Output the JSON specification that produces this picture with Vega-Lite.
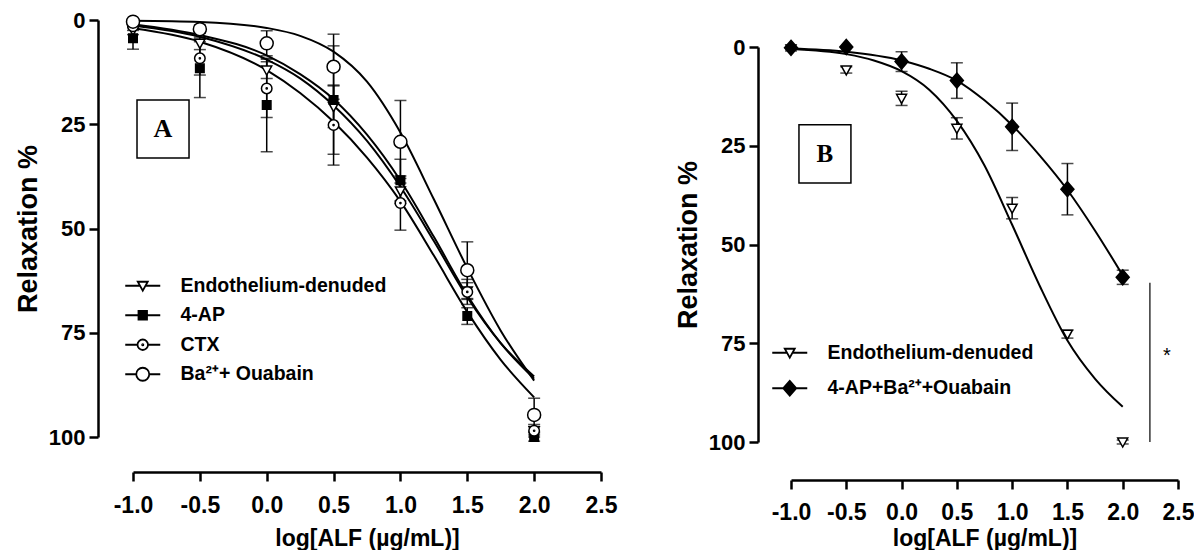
{
  "$schema": "https://vega.github.io/schema/vega-lite/v6.json",
  "background": "white",
  "padding": {"left": 14, "top": 9, "right": 0, "bottom": 0},
  "config": {
    "font": "Liberation Sans",
    "view": {"stroke": null},
    "axis": {
      "domainColor": "black", "domainWidth": 2.5, "tickColor": "black", "tickWidth": 2.5, "tickSize": 9,
      "labelFont": "Liberation Sans", "labelFontSize": 22, "labelFontWeight": "bold", "labelColor": "black",
      "titleFont": "Liberation Sans", "titleFontWeight": "bold", "titleColor": "black", "grid": false,
      "labelFlush": false, "labelOverlap": false
    },
    "axisX": {"labelPadding": 13, "labelFontSize": 23, "titleFontSize": 23, "titlePadding": 10},
    "axisY": {"labelPadding": 4, "titleFontSize": 27, "titlePadding": 6}
  },
  "datasets": {
    "ptsA": [
      {"series": "Endothelium-denuded", "x": -1, "y": 2.5, "lo": 1.5, "hi": 3.5},
      {"series": "Endothelium-denuded", "x": -0.5, "y": 5.6, "lo": 4.1, "hi": 7.1},
      {"series": "Endothelium-denuded", "x": 0, "y": 12, "lo": 10, "hi": 14},
      {"series": "Endothelium-denuded", "x": 0.5, "y": 20.8, "lo": 15.8, "hi": 25.8},
      {"series": "Endothelium-denuded", "x": 1, "y": 41, "lo": 38, "hi": 44},
      {"series": "Endothelium-denuded", "x": 1.5, "y": 65, "lo": 63, "hi": 67},
      {"series": "Endothelium-denuded", "x": 2, "y": 98.5, "lo": 97.5, "hi": 99.5},
      {"series": "4-AP", "x": -1, "y": 4.4, "lo": 1.8, "hi": 7},
      {"series": "4-AP", "x": -0.5, "y": 11.6, "lo": 4.6, "hi": 18.6},
      {"series": "4-AP", "x": 0, "y": 20.4, "lo": 9.2, "hi": 31.6},
      {"series": "4-AP", "x": 0.5, "y": 19.2, "lo": 6.2, "hi": 32.2},
      {"series": "4-AP", "x": 1, "y": 38.4, "lo": 33.4, "hi": 43.4},
      {"series": "4-AP", "x": 1.5, "y": 71, "lo": 69, "hi": 73},
      {"series": "4-AP", "x": 2, "y": 100, "lo": 99, "hi": 101},
      {"series": "CTX", "x": -1, "y": 1.5, "lo": 0.5, "hi": 2.5},
      {"series": "CTX", "x": -0.5, "y": 9.2, "lo": 5.2, "hi": 13.2},
      {"series": "CTX", "x": 0, "y": 16.4, "lo": 9.4, "hi": 23.4},
      {"series": "CTX", "x": 0.5, "y": 25.2, "lo": 15.6, "hi": 34.8},
      {"series": "CTX", "x": 1, "y": 43.9, "lo": 37.4, "hi": 50.4},
      {"series": "CTX", "x": 1.5, "y": 65.2, "lo": 62.2, "hi": 68.2},
      {"series": "CTX", "x": 2, "y": 98.5, "lo": 97, "hi": 100},
      {"series": "Ba²⁺+ Ouabain", "x": -1, "y": 0.4, "lo": 0, "hi": 0.8},
      {"series": "Ba²⁺+ Ouabain", "x": -0.5, "y": 2.2, "lo": 1.2, "hi": 3.2},
      {"series": "Ba²⁺+ Ouabain", "x": 0, "y": 5.6, "lo": 2.6, "hi": 8.6},
      {"series": "Ba²⁺+ Ouabain", "x": 0.5, "y": 11.2, "lo": 3.4, "hi": 19},
      {"series": "Ba²⁺+ Ouabain", "x": 1, "y": 29.2, "lo": 19.3, "hi": 39.1},
      {"series": "Ba²⁺+ Ouabain", "x": 1.5, "y": 60, "lo": 53.2, "hi": 66.8},
      {"series": "Ba²⁺+ Ouabain", "x": 2, "y": 94.7, "lo": 90.7, "hi": 98.7}
    ],
    "curvesA": [
      {"series": "Ba²⁺+ Ouabain", "x": -1, "y": 0.15},
      {"series": "Ba²⁺+ Ouabain", "x": -0.5, "y": 0.45},
      {"series": "Ba²⁺+ Ouabain", "x": 0, "y": 1.9},
      {"series": "Ba²⁺+ Ouabain", "x": 0.25, "y": 3.8},
      {"series": "Ba²⁺+ Ouabain", "x": 0.5, "y": 7.6},
      {"series": "Ba²⁺+ Ouabain", "x": 0.75, "y": 14.8},
      {"series": "Ba²⁺+ Ouabain", "x": 1, "y": 27},
      {"series": "Ba²⁺+ Ouabain", "x": 1.25, "y": 43},
      {"series": "Ba²⁺+ Ouabain", "x": 1.5, "y": 59.5},
      {"series": "Ba²⁺+ Ouabain", "x": 1.75, "y": 74.5},
      {"series": "Ba²⁺+ Ouabain", "x": 2, "y": 86.5},
      {"series": "Endothelium-denuded", "x": -1, "y": 1.0},
      {"series": "Endothelium-denuded", "x": -0.5, "y": 3.6},
      {"series": "Endothelium-denuded", "x": 0, "y": 8.5},
      {"series": "Endothelium-denuded", "x": 0.25, "y": 13},
      {"series": "Endothelium-denuded", "x": 0.5, "y": 19},
      {"series": "Endothelium-denuded", "x": 0.75, "y": 27.5},
      {"series": "Endothelium-denuded", "x": 1, "y": 38.5},
      {"series": "Endothelium-denuded", "x": 1.25, "y": 52},
      {"series": "Endothelium-denuded", "x": 1.5, "y": 66},
      {"series": "Endothelium-denuded", "x": 1.75, "y": 77.5},
      {"series": "Endothelium-denuded", "x": 2, "y": 86},
      {"series": "4-AP", "x": -1, "y": 1.3},
      {"series": "4-AP", "x": -0.5, "y": 4.0},
      {"series": "4-AP", "x": 0, "y": 9.5},
      {"series": "4-AP", "x": 0.25, "y": 14},
      {"series": "4-AP", "x": 0.5, "y": 20.5},
      {"series": "4-AP", "x": 0.75, "y": 29},
      {"series": "4-AP", "x": 1, "y": 40},
      {"series": "4-AP", "x": 1.25, "y": 53},
      {"series": "4-AP", "x": 1.5, "y": 66.5},
      {"series": "4-AP", "x": 1.75, "y": 77.5},
      {"series": "4-AP", "x": 2, "y": 85.5},
      {"series": "CTX", "x": -1, "y": 2.0},
      {"series": "CTX", "x": -0.5, "y": 5.2},
      {"series": "CTX", "x": 0, "y": 12},
      {"series": "CTX", "x": 0.25, "y": 17.5},
      {"series": "CTX", "x": 0.5, "y": 24.4},
      {"series": "CTX", "x": 0.75, "y": 33},
      {"series": "CTX", "x": 1, "y": 43.5},
      {"series": "CTX", "x": 1.25, "y": 56.5},
      {"series": "CTX", "x": 1.5, "y": 70},
      {"series": "CTX", "x": 1.75, "y": 81.5},
      {"series": "CTX", "x": 2, "y": 90.5}
    ],
    "ptsB": [
      {"series": "Endothelium-denuded", "x": -1, "y": 0.5, "lo": 0, "hi": 1},
      {"series": "Endothelium-denuded", "x": -0.5, "y": 5.8, "lo": 5, "hi": 6.6},
      {"series": "Endothelium-denuded", "x": 0, "y": 13, "lo": 11.2, "hi": 14.8},
      {"series": "Endothelium-denuded", "x": 0.5, "y": 20.6, "lo": 17.9, "hi": 23.3},
      {"series": "Endothelium-denuded", "x": 1, "y": 40.8, "lo": 38.1, "hi": 43.5},
      {"series": "Endothelium-denuded", "x": 1.5, "y": 72.7, "lo": 71.7, "hi": 73.7},
      {"series": "Endothelium-denuded", "x": 2, "y": 100, "lo": 99.5, "hi": 100.5},
      {"series": "4-AP+Ba²⁺+Ouabain", "x": -1, "y": 0.2, "lo": 0, "hi": 0.4},
      {"series": "4-AP+Ba²⁺+Ouabain", "x": -0.5, "y": 0, "lo": 0, "hi": 0},
      {"series": "4-AP+Ba²⁺+Ouabain", "x": 0, "y": 3.7, "lo": 1.2, "hi": 6.2},
      {"series": "4-AP+Ba²⁺+Ouabain", "x": 0.5, "y": 8.5, "lo": 4, "hi": 13},
      {"series": "4-AP+Ba²⁺+Ouabain", "x": 1, "y": 20.2, "lo": 14.2, "hi": 26.2},
      {"series": "4-AP+Ba²⁺+Ouabain", "x": 1.5, "y": 36, "lo": 29.5, "hi": 42.5},
      {"series": "4-AP+Ba²⁺+Ouabain", "x": 2, "y": 58.3, "lo": 56.5, "hi": 60.1}
    ],
    "curvesB": [
      {"series": "Endothelium-denuded", "x": -1, "y": 0.5},
      {"series": "Endothelium-denuded", "x": -0.5, "y": 1.8},
      {"series": "Endothelium-denuded", "x": -0.25, "y": 3.4},
      {"series": "Endothelium-denuded", "x": 0, "y": 6.1},
      {"series": "Endothelium-denuded", "x": 0.25, "y": 10.8},
      {"series": "Endothelium-denuded", "x": 0.5, "y": 18.7},
      {"series": "Endothelium-denuded", "x": 0.75, "y": 30},
      {"series": "Endothelium-denuded", "x": 1, "y": 45},
      {"series": "Endothelium-denuded", "x": 1.25, "y": 60.5},
      {"series": "Endothelium-denuded", "x": 1.5, "y": 74.3},
      {"series": "Endothelium-denuded", "x": 1.75, "y": 84},
      {"series": "Endothelium-denuded", "x": 2, "y": 91.1},
      {"series": "4-AP+Ba²⁺+Ouabain", "x": -1, "y": 0.4},
      {"series": "4-AP+Ba²⁺+Ouabain", "x": -0.5, "y": 1.2},
      {"series": "4-AP+Ba²⁺+Ouabain", "x": 0, "y": 3.4},
      {"series": "4-AP+Ba²⁺+Ouabain", "x": 0.25, "y": 5.5},
      {"series": "4-AP+Ba²⁺+Ouabain", "x": 0.5, "y": 8.5},
      {"series": "4-AP+Ba²⁺+Ouabain", "x": 0.75, "y": 13.5},
      {"series": "4-AP+Ba²⁺+Ouabain", "x": 1, "y": 19.8},
      {"series": "4-AP+Ba²⁺+Ouabain", "x": 1.25, "y": 27.5},
      {"series": "4-AP+Ba²⁺+Ouabain", "x": 1.5, "y": 36.2},
      {"series": "4-AP+Ba²⁺+Ouabain", "x": 1.75, "y": 46.5},
      {"series": "4-AP+Ba²⁺+Ouabain", "x": 2, "y": 57.8}
    ],
    "boxA": [{"x": -0.97, "x2": -0.581, "y": 19.2, "y2": 33.1, "cx": -0.776, "cy": 26.1, "label": "A"}],
    "boxB": [{"x": -0.928, "x2": -0.458, "y": 19.7, "y2": 34.4, "cx": -0.693, "cy": 27.1, "label": "B"}],
    "sigB": [{"x": 2.246, "y": 59.7, "y2": 100, "tx": 2.40, "ty": 78.2, "label": "*"}]
  },
  "bounds": "flush",
  "spacing": 190,
  "hconcat": [
    {
      "width": 468,
      "height": 417,
      "resolve": {"scale": {"shape": "independent", "fill": "independent"}, "legend": {"shape": "independent", "fill": "independent"}},
      "layer": [
        {
          "data": {"name": "ptsA"},
          "mark": {"type": "errorbar", "color": "black", "thickness": 1.5, "ticks": {"size": 12, "thickness": 1.5, "color": "black"}},
          "encoding": {
            "x": {"field": "x", "type": "quantitative", "title": "log[ALF (µg/mL)]"},
            "y": {"field": "lo", "type": "quantitative", "title": "Relaxation %"},
            "y2": {"field": "hi"}
          }
        },
        {
          "data": {"name": "curvesA"},
          "mark": {"type": "line", "color": "black", "strokeWidth": 2, "interpolate": "monotone"},
          "encoding": {
            "x": {"field": "x", "type": "quantitative", "title": "log[ALF (µg/mL)]",
                  "scale": {"domain": [-1, 2.5], "nice": false, "zero": false},
                  "axis": {"values": [-1, -0.5, 0, 0.5, 1, 1.5, 2, 2.5], "offset": 35, "labelExpr": "(datum.value < 0 ? '-' : '') + format(abs(datum.value), '.1f')"}},
            "y": {"field": "y", "type": "quantitative", "title": "Relaxation %",
                  "scale": {"domain": [0, 100], "reverse": true, "nice": false, "zero": false},
                  "axis": {"values": [0, 25, 50, 75, 100], "offset": 35}},
            "detail": {"field": "series"}
          }
        },
        {
          "data": {"name": "ptsA"},
          "mark": {"type": "point", "filled": true, "stroke": "black", "strokeWidth": 1.5, "size": 100, "opacity": 1},
          "encoding": {
            "x": {"field": "x", "type": "quantitative", "title": "log[ALF (µg/mL)]"},
            "y": {"field": "y", "type": "quantitative", "title": "Relaxation %"},
            "shape": {"field": "series", "type": "nominal", "legend": null,
                      "scale": {"domain": ["Endothelium-denuded", "4-AP", "CTX", "Ba²⁺+ Ouabain"],
                                "range": ["M-1,-0.8L1,-0.8L0,1Z", "M-0.85,-0.85H0.85V0.85H-0.85Z", "M-1.05,0A1.05,1.05 0 1,0 1.05,0A1.05,1.05 0 1,0 -1.05,0ZM-0.12,0A0.12,0.12 0 1,0 0.12,0A0.12,0.12 0 1,0 -0.12,0Z", "M-1.3,0A1.3,1.3 0 1,0 1.3,0A1.3,1.3 0 1,0 -1.3,0Z"]}},
            "fill": {"field": "series", "type": "nominal", "legend": null,
                     "scale": {"domain": ["Endothelium-denuded", "4-AP", "CTX", "Ba²⁺+ Ouabain"], "range": ["white", "black", "white", "white"]}}
          }
        },
        {
          "data": {"name": "ptsA"},
          "transform": [{"filter": "false"}],
          "mark": {"type": "point", "filled": true, "stroke": "black", "strokeWidth": 1.8, "size": 100, "opacity": 1},
          "encoding": {
            "x": {"field": "x", "type": "quantitative", "title": "log[ALF (µg/mL)]"},
            "y": {"field": "y", "type": "quantitative", "title": "Relaxation %"},
            "shape": {"field": "series", "type": "nominal",
                      "scale": {"domain": ["Endothelium-denuded", "4-AP", "CTX", "Ba²⁺+ Ouabain"],
                                "range": ["M-3.5,0H-0.56M0.56,0H3.5M-1,-0.8L1,-0.8L0,1Z", "M-3.5,0H3.5M-0.85,-0.85H0.85V0.85H-0.85Z", "M-3.5,0H-1.05M1.05,0H3.5M-1.05,0A1.05,1.05 0 1,0 1.05,0A1.05,1.05 0 1,0 -1.05,0ZM-0.12,0A0.12,0.12 0 1,0 0.12,0A0.12,0.12 0 1,0 -0.12,0Z", "M-3.5,0H-1.3M1.3,0H3.5M-1.3,0A1.3,1.3 0 1,0 1.3,0A1.3,1.3 0 1,0 -1.3,0Z"]},
                      "legend": {"title": null, "orient": "none", "legendX": 0, "legendY": 256, "direction": "vertical", "padding": 0,
                                 "labelFont": "Liberation Sans", "labelFontSize": 19.5, "labelFontWeight": "bold", "labelColor": "black",
                                 "labelOffset": 28, "rowPadding": 8.5, "symbolSize": 100, "symbolStrokeWidth": 1.8, "symbolOpacity": 1, "labelLimit": 400}},
            "fill": {"field": "series", "type": "nominal",
                     "scale": {"domain": ["Endothelium-denuded", "4-AP", "CTX", "Ba²⁺+ Ouabain"], "range": ["white", "black", "white", "white"]},
                     "legend": {"title": null, "orient": "none", "legendX": 0, "legendY": 256, "direction": "vertical", "padding": 0,
                                "labelFont": "Liberation Sans", "labelFontSize": 19.5, "labelFontWeight": "bold", "labelColor": "black",
                                "labelOffset": 28, "rowPadding": 8.5, "symbolSize": 100, "symbolStrokeWidth": 1.8, "symbolOpacity": 1, "labelLimit": 400}}
          }
        },
        {
          "data": {"name": "boxA"},
          "mark": {"type": "rect", "filled": false, "color": "black", "strokeWidth": 1.5},
          "encoding": {
            "x": {"field": "x", "type": "quantitative", "title": "log[ALF (µg/mL)]"},
            "x2": {"field": "x2"},
            "y": {"field": "y", "type": "quantitative", "title": "Relaxation %"},
            "y2": {"field": "y2"}
          }
        },
        {
          "data": {"name": "boxA"},
          "mark": {"type": "text", "font": "Liberation Serif", "fontSize": 26, "fontWeight": "bold", "color": "black", "baseline": "middle", "align": "center"},
          "encoding": {
            "x": {"field": "cx", "type": "quantitative", "title": "log[ALF (µg/mL)]"},
            "y": {"field": "cy", "type": "quantitative", "title": "Relaxation %"},
            "text": {"field": "label"}
          }
        }
      ]
    },
    {
      "bounds": "flush",
      "spacing": 20,
      "vconcat": [
        {"width": 387, "height": 7, "data": {"values": []}, "mark": "point"},
        {
          "width": 387,
          "height": 395,
          "resolve": {"scale": {"shape": "independent", "fill": "independent"}, "legend": {"shape": "independent", "fill": "independent"}},
          "layer": [
            {
              "data": {"name": "ptsB"},
              "mark": {"type": "errorbar", "color": "black", "thickness": 1.5, "ticks": {"size": 12, "thickness": 1.5, "color": "black"}},
              "encoding": {
                "x": {"field": "x", "type": "quantitative", "title": "log[ALF (µg/mL)]"},
                "y": {"field": "lo", "type": "quantitative", "title": "Relaxation %"},
                "y2": {"field": "hi"}
              }
            },
            {
              "data": {"name": "curvesB"},
              "mark": {"type": "line", "color": "black", "strokeWidth": 2, "interpolate": "monotone"},
              "encoding": {
                "x": {"field": "x", "type": "quantitative", "title": "log[ALF (µg/mL)]",
                      "scale": {"domain": [-1, 2.5], "nice": false, "zero": false},
                      "axis": {"values": [-1, -0.5, 0, 0.5, 1, 1.5, 2, 2.5], "offset": 38, "labelPadding": 12, "titlePadding": 3, "labelExpr": "(datum.value < 0 ? '-' : '') + format(abs(datum.value), '.1f')"}},
                "y": {"field": "y", "type": "quantitative", "title": "Relaxation %",
                      "scale": {"domain": [0, 100], "reverse": true, "nice": false, "zero": false},
                      "axis": {"values": [0, 25, 50, 75, 100], "offset": 33}},
                "detail": {"field": "series"}
              }
            },
            {
              "data": {"name": "ptsB"},
              "mark": {"type": "point", "filled": true, "stroke": "black", "strokeWidth": 1.5, "size": 100, "opacity": 1},
              "encoding": {
                "x": {"field": "x", "type": "quantitative", "title": "log[ALF (µg/mL)]"},
                "y": {"field": "y", "type": "quantitative", "title": "Relaxation %"},
                "shape": {"field": "series", "type": "nominal", "legend": null,
                          "scale": {"domain": ["Endothelium-denuded", "4-AP+Ba²⁺+Ouabain"],
                                    "range": ["M-1,-0.8L1,-0.8L0,1Z", "M0,-1.5L1.3,0L0,1.5L-1.3,0Z"]}},
                "fill": {"field": "series", "type": "nominal", "legend": null,
                         "scale": {"domain": ["Endothelium-denuded", "4-AP+Ba²⁺+Ouabain"], "range": ["white", "black"]}}
              }
            },
            {
              "data": {"name": "ptsB"},
              "transform": [{"filter": "false"}],
              "mark": {"type": "point", "filled": true, "stroke": "black", "strokeWidth": 1.8, "size": 100, "opacity": 1},
              "encoding": {
                "x": {"field": "x", "type": "quantitative", "title": "log[ALF (µg/mL)]"},
                "y": {"field": "y", "type": "quantitative", "title": "Relaxation %"},
                "shape": {"field": "series", "type": "nominal",
                          "scale": {"domain": ["Endothelium-denuded", "4-AP+Ba²⁺+Ouabain"],
                                    "range": ["M-3.5,0H-0.56M0.56,0H3.5M-1,-0.8L1,-0.8L0,1Z", "M-3.5,0H3.5M0,-1.5L1.3,0L0,1.5L-1.3,0Z"]},
                          "legend": {"title": null, "orient": "none", "legendX": -11, "legendY": 296, "direction": "vertical", "padding": 0,
                                     "labelFont": "Liberation Sans", "labelFontSize": 19.5, "labelFontWeight": "bold", "labelColor": "black",
                                     "labelOffset": 28, "rowPadding": 13.5, "symbolSize": 100, "symbolStrokeWidth": 1.8, "symbolOpacity": 1, "labelLimit": 400}},
                "fill": {"field": "series", "type": "nominal",
                         "scale": {"domain": ["Endothelium-denuded", "4-AP+Ba²⁺+Ouabain"], "range": ["white", "black"]},
                         "legend": {"title": null, "orient": "none", "legendX": -11, "legendY": 296, "direction": "vertical", "padding": 0,
                                    "labelFont": "Liberation Sans", "labelFontSize": 19.5, "labelFontWeight": "bold", "labelColor": "black",
                                    "labelOffset": 28, "rowPadding": 13.5, "symbolSize": 100, "symbolStrokeWidth": 1.8, "symbolOpacity": 1, "labelLimit": 400}}
              }
            },
            {
              "data": {"name": "boxB"},
              "mark": {"type": "rect", "filled": false, "color": "black", "strokeWidth": 1.5},
              "encoding": {
                "x": {"field": "x", "type": "quantitative", "title": "log[ALF (µg/mL)]"},
                "x2": {"field": "x2"},
                "y": {"field": "y", "type": "quantitative", "title": "Relaxation %"},
                "y2": {"field": "y2"}
              }
            },
            {
              "data": {"name": "boxB"},
              "mark": {"type": "text", "font": "Liberation Serif", "fontSize": 25, "fontWeight": "bold", "color": "black", "baseline": "middle", "align": "center"},
              "encoding": {
                "x": {"field": "cx", "type": "quantitative", "title": "log[ALF (µg/mL)]"},
                "y": {"field": "cy", "type": "quantitative", "title": "Relaxation %"},
                "text": {"field": "label"}
              }
            },
            {
              "data": {"name": "sigB"},
              "mark": {"type": "rule", "color": "black", "strokeWidth": 1.2},
              "encoding": {
                "x": {"field": "x", "type": "quantitative", "title": "log[ALF (µg/mL)]"},
                "y": {"field": "y", "type": "quantitative", "title": "Relaxation %"},
                "y2": {"field": "y2"}
              }
            },
            {
              "data": {"name": "sigB"},
              "mark": {"type": "text", "fontSize": 20, "color": "black", "baseline": "middle", "align": "center"},
              "encoding": {
                "x": {"field": "tx", "type": "quantitative", "title": "log[ALF (µg/mL)]"},
                "y": {"field": "ty", "type": "quantitative", "title": "Relaxation %"},
                "text": {"field": "label"}
              }
            }
          ]
        }
      ]
    }
  ]
}
